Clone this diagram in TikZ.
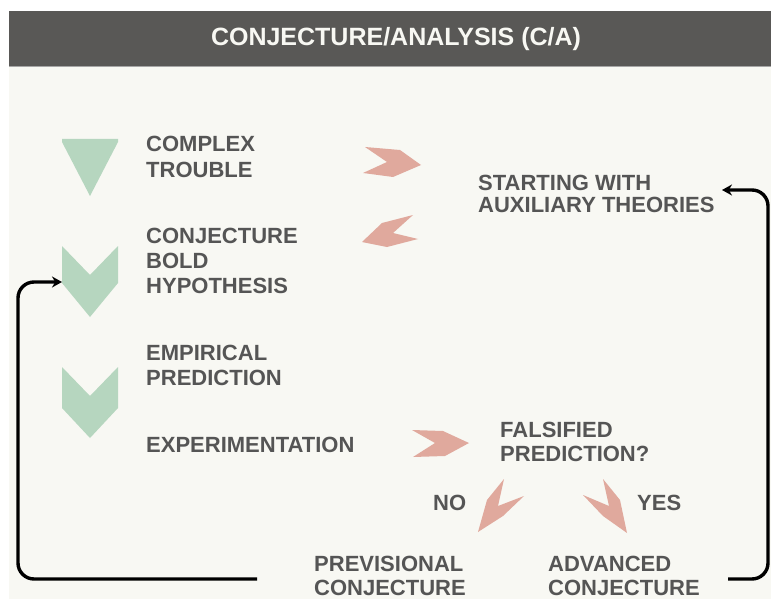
\documentclass[tikz,border=0pt]{standalone}
\usepackage{fontspec}
\setmainfont{Liberation Sans}
\usetikzlibrary{arrows.meta}
\definecolor{hdr}{HTML}{595856}
\definecolor{cream}{HTML}{F8F8F3}
\definecolor{grn}{HTML}{B6D6BF}
\definecolor{slm}{HTML}{E0A99D}
\definecolor{txt}{HTML}{555555}
\tikzset{
  lbl/.style={anchor=base west, inner sep=0pt, align=left, text=txt,
    font=\bfseries\fontsize{22}{25}\selectfont},
  grnshape/.style={fill=grn, draw=none},
  slmshape/.style={fill=slm, draw=none},
  loop/.style={draw=black, line width=3.4pt, rounded corners=16pt,
    -{Stealth[length=10pt,width=11pt]}},
}
\begin{document}
\begin{tikzpicture}[x=1pt,y=-1pt]
\useasboundingbox (0,0) rectangle (771,599);
\clip (0,0) rectangle (771,599);
\fill[white] (0,0) rectangle (771,599);
\fill[cream] (9,66) rectangle (771,599);
\fill[hdr] (9,11) rectangle (771,66);
\draw[color=black!35, line width=1pt] (9,66.5) -- (771,66.5);
\node[inner sep=0pt, text=cream, font=\bfseries\fontsize{25}{28}\selectfont] (title) at (396,39) {CONJECTURE/ANALYSIS (C/A)};

% green shapes
\fill[grnshape] (62,139) -- (118,139) -- (118,142) -- (90,196) -- (62,142) -- cycle;
\fill[grnshape] (62,246) -- (90,275) -- (118,246) -- (118,283) -- (90,317) -- (62,283) -- cycle;
\fill[grnshape] (62,367) -- (90,396) -- (118,367) -- (118,408) -- (90,438) -- (62,408) -- cycle;
\coordinate (hyp) at (62,282);

% salmon shapes
\fill[slmshape] (365,147) -- (400,150) -- (421,165) -- (393,177) -- (363,173) -- (387,162) -- cycle;
\fill[slmshape] (413,215) -- (382,223) -- (362,242) -- (387,247) -- (418,239) -- (393,233) -- cycle;
\fill[slmshape] (412,430) -- (443,431) -- (469,443) -- (445,456) -- (413,457) -- (435,443) -- cycle;
\fill[slmshape] (504,479) -- (487,500) -- (478,532) -- (503,516) -- (524,496) -- (498,506) -- cycle;
\fill[slmshape] (603,479) -- (620,500) -- (627,533) -- (603,516) -- (583,495) -- (609,506) -- cycle;

% texts (base anchor = baseline of the last line)
\node[lbl] (complex) at (146,177) {COMPLEX\\TROUBLE};
\node[lbl] (conj) at (146,293) {CONJECTURE\\BOLD\\HYPOTHESIS};
\node[lbl] (emp) at (146,385) {EMPIRICAL\\PREDICTION};
\node[lbl] (exp) at (146,452) {EXPERIMENTATION};
\node[lbl, font=\bfseries\fontsize{22}{22}\selectfont] (aux) at (478,212) {STARTING WITH\\AUXILIARY THEORIES};
\node[lbl, font=\bfseries\fontsize{22}{24}\selectfont] (fals) at (500,461) {FALSIFIED\\PREDICTION?};
\node[lbl] (no) at (433,510) {NO};
\node[lbl] (yes) at (637,510) {YES};
\node[lbl, text depth=0pt, font=\bfseries\fontsize{22}{23.5}\selectfont] (prev) at (314,595) {PREVISIONAL\\CONJECTURE};
\node[lbl, text depth=0pt, font=\bfseries\fontsize{22}{23.5}\selectfont] (adv) at (548,595) {ADVANCED\\CONJECTURE};

\coordinate (prevend) at (257,579);
\coordinate (advend) at (728,579);
\coordinate (auxend) at (722,190);

% connectors
\draw[loop] (prevend) -- (18,579) -- (18,282) -- (hyp);
\draw[loop] (advend) -- (768,579) -- (768,190) -- (auxend);
\end{tikzpicture}
\end{document}
